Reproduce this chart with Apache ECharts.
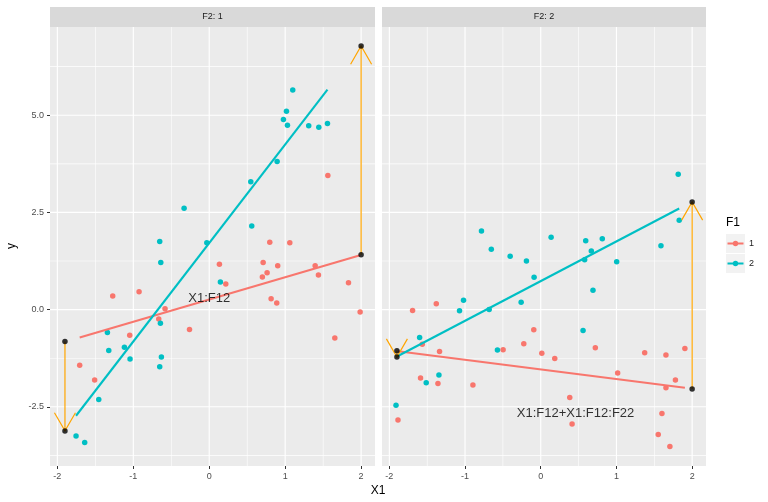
<!DOCTYPE html>
<html>
<head>
<meta charset="utf-8">
<script src="https://cdn.jsdelivr.net/npm/echarts@6/dist/echarts.min.js"></script>
<style>html,body{margin:0;padding:0;background:#fff}#c{width:768px;height:502px}</style>
</head>
<body>
<div id="c"></div>
<script>
// ---------- data ----------
const panelTitles = ['F2: 1', 'F2: 2'];
const groupNames = ['1', '2'];
const xMajorTicks = [-2, -1, 0, 1, 2];
const xMinorTicks = [-1.5, -0.5, 0.5, 1.5];
const yMajorTicks = [-2.5, 0, 2.5, 5];
const yMinorTicks = [-3.75, -1.25, 1.25, 3.75, 6.25];

// panel F2:1, group F1=1
const p1Red = [[0.134,1.17],[0.71,1.21],[0.902,1.13],[0.762,0.95],[0.70,0.84],[0.218,0.66],[1.395,1.13],[1.438,0.89],[1.834,0.69],[0.815,0.28],[0.889,0.17],[-1.271,0.35],[-0.924,0.46],[-0.582,0.02],[-0.665,-0.24],[-0.26,-0.51],[-1.047,-0.66],[1.987,-0.06],[1.654,-0.73],[-1.706,-1.43],[-1.509,-1.81],[1.562,3.45],[0.797,1.73],[1.061,1.72]];
// panel F2:1, group F1=2
const p1Teal = [[1.10,5.65],[1.017,5.10],[0.977,4.89],[1.03,4.74],[1.31,4.73],[1.443,4.69],[1.557,4.79],[0.894,3.81],[0.547,3.29],[-0.331,2.61],[0.56,2.15],[-0.652,1.75],[-0.032,1.72],[-0.638,1.21],[0.147,0.71],[-0.643,-0.35],[-1.341,-0.59],[-1.323,-1.05],[-1.117,-0.97],[-1.043,-1.27],[-0.63,-1.22],[-0.652,-1.47],[-1.455,-2.31],[-1.754,-3.25],[-1.64,-3.42]];
// panel F2:2, group F1=1
const p2Red = [[-1.693,-0.02],[-1.38,0.15],[-0.092,-0.52],[-0.224,-0.88],[0.014,-1.12],[-0.497,-1.03],[-1.565,-0.89],[-1.337,-1.08],[-1.588,-1.76],[-1.358,-1.90],[-0.896,-1.94],[-1.886,-2.84],[0.185,-1.26],[0.721,-0.98],[1.016,-1.63],[1.373,-1.11],[1.654,-1.17],[1.904,-1.0],[1.779,-1.81],[1.654,-2.01],[0.383,-2.26],[0.414,-2.94],[1.601,-2.67],[1.552,-3.21],[1.706,-3.52]];
// panel F2:2, group F1=2
const p2Teal = [[1.816,3.48],[1.829,2.30],[-0.783,2.02],[0.137,1.86],[0.594,1.77],[0.813,1.82],[1.588,1.64],[-0.653,1.55],[-0.404,1.37],[-0.189,1.25],[-0.088,0.83],[-1.02,0.24],[-1.073,-0.03],[-0.681,0.0],[-0.259,0.19],[-1.60,-0.72],[-0.572,-1.04],[-1.345,-1.68],[-1.513,-1.88],[-1.912,-2.46],[0.668,1.51],[0.58,1.28],[1.003,1.23],[0.69,0.50],[0.559,-0.54]];

// fitted line endpoints
const p1RedFit = [[-1.706,-0.716],[1.987,1.40]];
const p1TealFit = [[-1.754,-2.73],[1.557,5.66]];
const p2RedFit = [[-1.886,-1.07],[1.904,-2.01]];
const p2TealFit = [[-1.912,-1.22],[1.829,2.60]];

// arrows: [x, yFrom, yTo]
const p1Arrows = [[-1.9,-0.82,-3.12],[2.0,1.41,6.78]];
const p2Arrows = [[-1.9,-1.06,-1.22],[2.0,-2.04,2.77]];

// annotations: [x, y, text]
const p1Note = [0, 0.29, 'X1:F12'];
const p2Note = [0.46, -2.67, 'X1:F12+X1:F12:F22'];

// ---------- chart ----------
const RED = '#F8766D', TEAL = '#00BFC4', ORANGE = '#FFA500';
const FONT = '"Liberation Sans", Arial, Helvetica, sans-serif';
const X_MIN = -2.097, X_MAX = 2.183, Y_MIN = -4.023, Y_MAX = 7.27;
const grids = [
  {left: 50, top: 27, width: 325, height: 439},
  {left: 382, top: 27, width: 324, height: 439}
];

function xAxisFor(i) {
  return {
    type: 'value', gridIndex: i, min: X_MIN, max: X_MAX,
    axisLine: {show: false, onZero: false},
    axisTick: {show: true, customValues: xMajorTicks, length: 3, lineStyle: {color: '#333333', width: 1}},
    axisLabel: {show: true, customValues: xMajorTicks, color: '#4D4D4D', fontSize: 9, fontFamily: FONT, margin: 6},
    splitLine: {show: false}
  };
}
function yAxisFor(i) {
  return {
    type: 'value', gridIndex: i, min: Y_MIN, max: Y_MAX,
    axisLine: {show: false, onZero: false},
    axisTick: {show: i === 0, customValues: yMajorTicks, length: 3, lineStyle: {color: '#333333', width: 1}},
    axisLabel: {show: i === 0, customValues: yMajorTicks, color: '#4D4D4D', fontSize: 9, fontFamily: FONT, margin: 6,
      formatter: v => v.toFixed(1)},
    splitLine: {show: false}
  };
}

// panel background + grid lines (thin filled strips), positioned through the axes' scales
function panelSeries(ai) {
  const rows = [];
  xMinorTicks.forEach(v => rows.push([0, v, 0.6]));
  yMinorTicks.forEach(v => rows.push([1, v, 0.6]));
  xMajorTicks.forEach(v => rows.push([0, v, 1.15]));
  yMajorTicks.forEach(v => rows.push([1, v, 1.15]));
  return {
    type: 'custom', xAxisIndex: ai, yAxisIndex: ai, clip: false, silent: true, z: 1,
    data: [0],
    renderItem: function (params, api) {
      const p0 = api.coord([X_MIN, Y_MAX]), p1 = api.coord([X_MAX, Y_MIN]);
      const W = p1[0] - p0[0], H = p1[1] - p0[1];
      const children = [{type: 'rect', shape: {x: p0[0], y: p0[1], width: W, height: H},
        style: {fill: '#EBEBEB'}}];
      rows.forEach(r => {
        const w = r[2];
        let shape;
        if (r[0] === 0) {
          const px = api.coord([r[1], Y_MIN])[0];
          shape = {x: px - w / 2, y: p0[1], width: w, height: H};
        } else {
          const py = api.coord([X_MIN, r[1]])[1];
          shape = {x: p0[0], y: py - w / 2, width: W, height: w};
        }
        children.push({type: 'rect', shape: shape, style: {fill: '#FFFFFF'}});
      });
      return {type: 'group', children: children};
    }
  };
}
function arrowSeries(data, ai) {
  return {
    type: 'custom', xAxisIndex: ai, yAxisIndex: ai, clip: false, silent: true,
    data: data, encode: {x: 0, y: [1, 2]}, z: 5,
    renderItem: function (params, api) {
      const x = api.value(0), y0 = api.value(1), y1 = api.value(2);
      const a = api.coord([x, y0]), b = api.coord([x, y1]);
      const ang = Math.atan2(b[1] - a[1], b[0] - a[0]);
      const L = 21, th = Math.PI / 6;
      const h1 = [b[0] - L * Math.cos(ang - th), b[1] - L * Math.sin(ang - th)];
      const h2 = [b[0] - L * Math.cos(ang + th), b[1] - L * Math.sin(ang + th)];
      return {type: 'group', children: [
        {type: 'line', shape: {x1: a[0], y1: a[1], x2: b[0], y2: b[1]}, style: {stroke: ORANGE, lineWidth: 1.2}},
        {type: 'polyline', shape: {points: [h1, b, h2]}, style: {stroke: ORANGE, lineWidth: 1.2, fill: null}}
      ]};
    }
  };
}
function endpointSeries(data, ai) {
  const pts = [];
  data.forEach(d => { pts.push([d[0], d[1]]); pts.push([d[0], d[2]]); });
  return {type: 'scatter', xAxisIndex: ai, yAxisIndex: ai, data: pts, symbolSize: 5.5,
    itemStyle: {color: '#000000'}, silent: true, z: 6};
}
function pointSeries(data, ai, color, name) {
  return {type: 'scatter', name: name, xAxisIndex: ai, yAxisIndex: ai, data: data, symbolSize: 5.5,
    itemStyle: {color: color, opacity: 1}, silent: true, z: 3};
}
function fitSeries(data, ai, color, name) {
  return {type: 'line', name: name, xAxisIndex: ai, yAxisIndex: ai, data: data, showSymbol: false, symbol: 'none',
    lineStyle: {color: color, width: 2.1}, itemStyle: {color: color}, silent: true, z: 4};
}
function noteSeries(note, ai) {
  return {type: 'scatter', xAxisIndex: ai, yAxisIndex: ai, symbolSize: 1, silent: true, z: 7,
    itemStyle: {color: 'rgba(0,0,0,0)'},
    data: [{value: [note[0], note[1]], name: note[2]}],
    label: {show: true, position: 'inside', formatter: '{b}', color: '#000000', fontSize: 13, fontFamily: FONT}};
}

const graphics = [];
panelTitles.forEach((t, i) => {
  const g = grids[i];
  graphics.push({type: 'rect', shape: {x: g.left, y: 7, width: g.width, height: 20}, style: {fill: '#D9D9D9'}, silent: true});
  graphics.push({type: 'text', x: g.left + g.width / 2, y: 17, style: {text: t, fill: '#1A1A1A', font: '9px ' + FONT, textAlign: 'center', textVerticalAlign: 'middle'}, silent: true});
});
// axis titles
graphics.push({type: 'text', x: 378, y: 491, style: {text: 'X1', fill: '#000000', font: '12px ' + FONT, textAlign: 'center', textVerticalAlign: 'middle'}, silent: true});
graphics.push({type: 'text', x: 12, y: 246, rotation: Math.PI / 2, style: {text: 'y', fill: '#000000', font: '12px ' + FONT, textAlign: 'center', textVerticalAlign: 'middle'}, silent: true});
// legend
graphics.push({type: 'text', x: 726, y: 223, style: {text: 'F1', fill: '#000000', font: '12px ' + FONT, textAlign: 'left', textVerticalAlign: 'middle'}, silent: true});
[RED, TEAL].forEach((c, k) => {
  const y0 = 234 + k * 20;
  graphics.push({type: 'rect', shape: {x: 726, y: y0, width: 19, height: 19}, style: {fill: '#F2F2F2'}, silent: true});
  graphics.push({type: 'line', shape: {x1: 727.5, y1: y0 + 9.5, x2: 743.5, y2: y0 + 9.5}, style: {stroke: c, lineWidth: 2}, silent: true});
  graphics.push({type: 'circle', shape: {cx: 735.5, cy: y0 + 9.5, r: 2.7}, style: {fill: c}, silent: true});
  graphics.push({type: 'text', x: 749, y: y0 + 10, style: {text: groupNames[k], fill: '#1A1A1A', font: '9px ' + FONT, textAlign: 'left', textVerticalAlign: 'middle'}, silent: true});
});

const option = {
  animation: false,
  backgroundColor: '#FFFFFF',
  grid: grids.map(g => Object.assign({show: false}, g)),
  xAxis: [xAxisFor(0), xAxisFor(1)],
  yAxis: [yAxisFor(0), yAxisFor(1)],
  graphic: {elements: graphics},
  series: [
    panelSeries(0),
    panelSeries(1),
    pointSeries(p1Red, 0, RED, groupNames[0]),
    pointSeries(p1Teal, 0, TEAL, groupNames[1]),
    fitSeries(p1RedFit, 0, RED, groupNames[0]),
    fitSeries(p1TealFit, 0, TEAL, groupNames[1]),
    arrowSeries(p1Arrows, 0),
    endpointSeries(p1Arrows, 0),
    noteSeries(p1Note, 0),
    pointSeries(p2Red, 1, RED, groupNames[0]),
    pointSeries(p2Teal, 1, TEAL, groupNames[1]),
    fitSeries(p2RedFit, 1, RED, groupNames[0]),
    fitSeries(p2TealFit, 1, TEAL, groupNames[1]),
    arrowSeries(p2Arrows, 1),
    endpointSeries(p2Arrows, 1),
    noteSeries(p2Note, 1)
  ]
};
const chart = echarts.init(document.getElementById('c'), null, {renderer: 'canvas'});
chart.setOption(option);
</script>
</body>
</html>
